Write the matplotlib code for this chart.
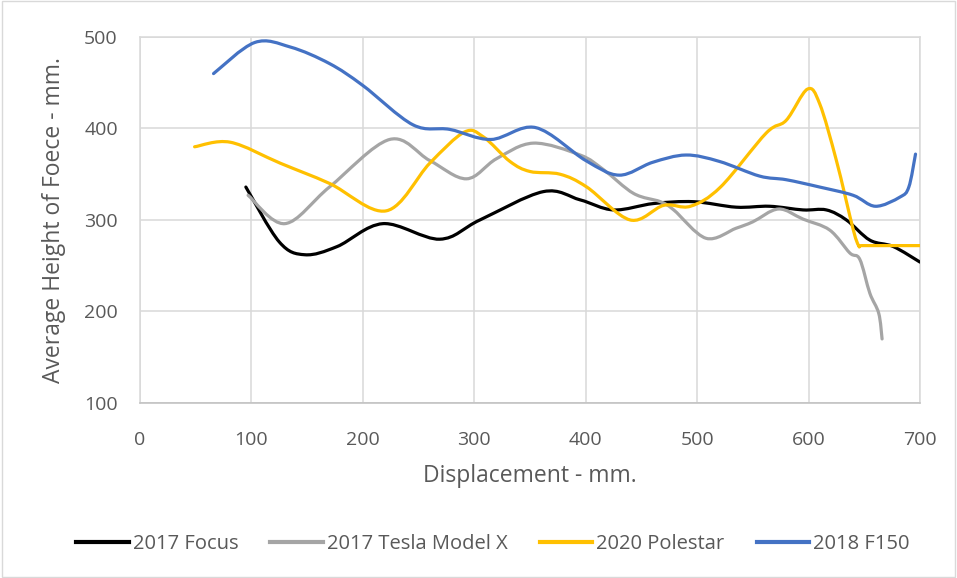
import matplotlib
matplotlib.use("Agg")
import matplotlib.pyplot as plt
import numpy as np
from matplotlib.path import Path
from matplotlib.patches import PathPatch, Rectangle
from matplotlib.lines import Line2D

plt.rcParams['font.family'] = ['Open Sans', 'DejaVu Sans']

# values
focus_x = [95, 125, 148, 177, 218, 269, 305, 362, 395, 425, 461, 497, 535, 565, 595, 616, 634, 655, 676, 700]
focus_y = [336, 276, 262, 271, 296, 279, 300, 331, 322, 311, 318, 320, 314, 315, 311, 311, 300, 278, 271, 254]

tesla_x = [97, 130, 170, 224, 260, 293, 320, 353, 395, 416, 443, 467, 479, 508, 535, 550, 573, 595, 619, 637, 646, 655, 663, 666]
tesla_y = [327, 296, 336, 388, 365, 345, 367, 384, 371, 355, 329, 320, 311, 280, 291, 298, 312, 301, 289, 264, 257, 220, 198, 170]

polestar_x = [49, 81, 126, 170, 221, 260, 291, 308, 332, 350, 377, 401, 440, 470, 494, 521, 562, 580, 599, 610, 625, 640, 645, 648, 670, 700]
polestar_y = [380, 385, 362, 340, 310, 362, 396, 391, 364, 353, 350, 336, 300, 316, 315, 336, 395, 409, 443, 427, 365, 290, 272, 272, 272, 272]

f150_x = [66, 103, 135, 170, 200, 245, 278, 315, 355, 400, 430, 460, 490, 520, 556, 580, 610, 640, 660, 682, 690, 696]
f150_y = [460, 494, 489, 471, 447, 404, 399, 388, 401, 365, 349, 363, 371, 364, 348, 344, 336, 327, 315, 325, 336, 372]

names = ['2017 Focus', '2017 Tesla Model X', '2020 Polestar', '2018 F150']
colors = ['#000000', '#A5A5A5', '#FFC000', '#4472C4']
series = [(focus_x, focus_y), (tesla_x, tesla_y), (polestar_x, polestar_y), (f150_x, f150_y)]


def smooth_path(xs, ys):
    # excel-like smoothed line: catmull-rom segments as cubic beziers
    p = np.column_stack([xs, ys]).astype(float)
    n = len(p)
    verts = [p[0]]
    codes = [Path.MOVETO]
    for i in range(n - 1):
        p0 = p[i - 1] if i > 0 else p[i]
        p1, p2 = p[i], p[i + 1]
        p3 = p[i + 2] if i + 2 < n else p[i + 1]
        verts += [p1 + (p2 - p0) / 6, p2 - (p3 - p1) / 6, p2]
        codes += [Path.CURVE4] * 3
    return Path(verts, codes)


fig = plt.figure(figsize=(9.57, 5.78), dpi=100)
ax = fig.add_axes([0.1463, 0.3028, 0.815, 0.6332])

for (xs, ys), c in zip(series, colors):
    ax.add_patch(PathPatch(smooth_path(xs, ys), fill=False, edgecolor=c, lw=2.3,
                           capstyle='round', joinstyle='round', zorder=3))

ax.set_xlim(0, 700)
ax.set_ylim(100, 500)
ax.set_xticks(range(0, 701, 100))
ax.set_yticks(range(100, 501, 100))
ax.grid(True, color='#D9D9D9', lw=1.1)
ax.set_axisbelow(True)
for s in ax.spines.values():
    s.set_color('#D9D9D9')
    s.set_linewidth(1.1)
ax.spines['bottom'].set_color('#BFBFBF')
ax.tick_params(length=0, labelsize=14, labelcolor='#595959')
ax.tick_params(axis='x', pad=20)
ax.tick_params(axis='y', pad=16)
ax.set_xlabel('Displacement - mm.', fontsize=16.5, color='#595959', labelpad=11)
ax.set_ylabel('Average Height of Foece - mm.', fontsize=16.5, color='#595959', labelpad=13)

handles = [Line2D([], [], color=c, lw=3) for c in colors]
fig.legend(handles, names, loc='center', bbox_to_anchor=(0.515, 0.059), ncol=4,
           frameon=False, fontsize=14.5, labelcolor='#595959', handlelength=2.6,
           handletextpad=0.2, columnspacing=1.6)

fig.patches.append(Rectangle((0.002, 0.002), 0.996, 0.996, transform=fig.transFigure,
                             fill=False, edgecolor='#D9D9D9', lw=1))

fig.savefig('out.png', dpi=100)
